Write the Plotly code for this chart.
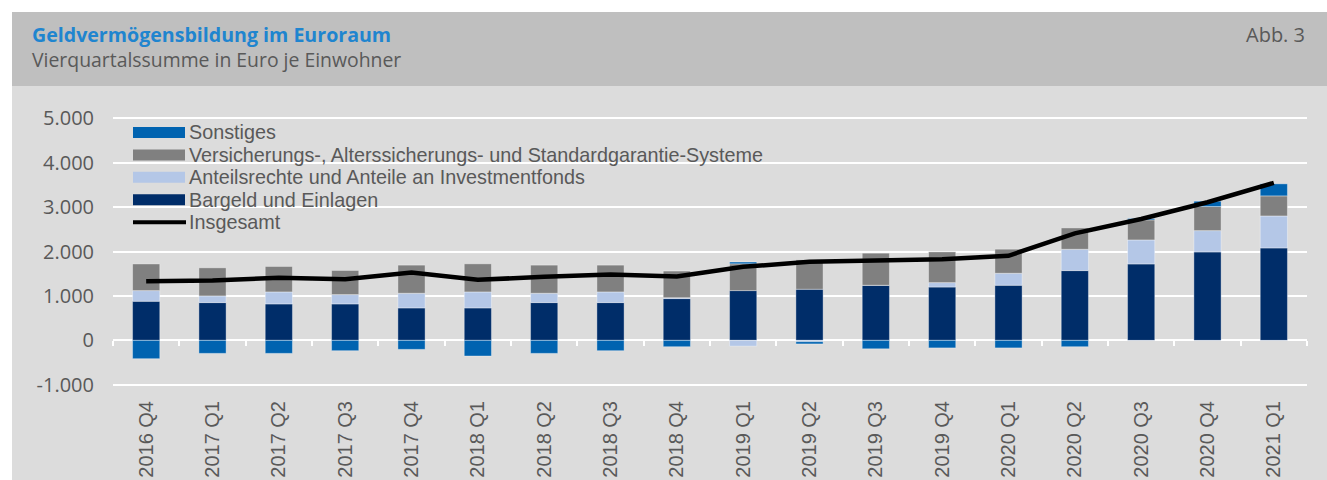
import plotly.graph_objects as go

categories = ["2016 Q4", "2017 Q1", "2017 Q2", "2017 Q3", "2017 Q4", "2018 Q1", "2018 Q2",
              "2018 Q3", "2018 Q4", "2019 Q1", "2019 Q2", "2019 Q3", "2019 Q4", "2020 Q1",
              "2020 Q2", "2020 Q3", "2020 Q4", "2021 Q1"]
bargeld = [880, 850, 820, 820, 730, 730, 850, 850, 940, 1120, 1150, 1240, 1200, 1240, 1570, 1720, 1990, 2080]
anteile = [240, 150, 270, 210, 330, 360, 210, 240, 20, -130, -30, 0, 100, 270, 480, 540, 480, 720]
versicherung = [600, 633, 573, 543, 633, 633, 633, 603, 600, 603, 663, 722, 692, 542, 481, 452, 542, 452]
sonstiges = [-413, -293, -293, -233, -203, -353, -293, -233, -143, 40, -50, -190, -170, -170, -143, 30, 120, 271]
insgesamt = [1332, 1347, 1407, 1377, 1528, 1362, 1430, 1482, 1437, 1655, 1768, 1806, 1828, 1904, 2408, 2731, 3108, 3544]

ytick_vals = [-1000, 0, 1000, 2000, 3000, 4000, 5000]
ytick_text = ["-1.000", "0", "1.000", "2.000", "3.000", "4.000", "5.000"]

series_names = ["Sonstiges",
                "Versicherungs-, Alterssicherungs- und Standardgarantie-Systeme",
                "Anteilsrechte und Anteile an Investmentfonds",
                "Bargeld und Einlagen"]
line_name = "Insgesamt"

title_text = "Geldvermögensbildung im Euroraum"
subtitle_text = "Vierquartalssumme in Euro je Einwohner"
fig_label = "Abb. 3"

C_BARGELD = "#002d69"
C_ANTEILE = "#b4c7e7"
C_VERS = "#808080"
C_SONST = "#0063b0"
TXT = "#595959"
FONT = "Open Sans"
XFONT = "Liberation Sans"
LEGFONT = "Liberation Sans"

# figure geometry (pixels)
WIDTH, HEIGHT = 1327, 480
L, R, T, B = 113, 1307, 116.1, 387.2
YMIN, YMAX = -1050, 5050


def px(x):
    return (x - L) / (R - L)


def py(y):
    return (B - y) / (B - T)


fig = go.Figure()
bar_line = dict(color="rgba(255,255,255,0.35)", width=1)
for vals, col, nm in [(bargeld, C_BARGELD, series_names[3]),
                      (anteile, C_ANTEILE, series_names[2]),
                      (versicherung, C_VERS, series_names[1]),
                      (sonstiges, C_SONST, series_names[0])]:
    fig.add_trace(go.Bar(x=categories, y=vals, name=nm, marker=dict(color=col, line=bar_line),
                         showlegend=False))

fig.add_trace(go.Scatter(x=categories, y=insgesamt, name=line_name, mode="lines",
                         line=dict(color="black", width=4.5), xaxis="x2", showlegend=False))

shapes = [
    dict(type="rect", xref="paper", yref="paper", x0=px(12), x1=px(WIDTH), y0=py(86), y1=py(12),
         fillcolor="#bfbfbf", line=dict(width=0), layer="below"),
    dict(type="rect", xref="paper", yref="paper", x0=px(12), x1=px(WIDTH), y0=py(HEIGHT + 5), y1=py(86),
         fillcolor="#dcdcdc", line=dict(width=0), layer="below"),
]
annotations = [
    dict(text="<b>" + title_text + "</b>", x=px(30), y=py(34.5), xref="paper", yref="paper",
         xanchor="left", yanchor="middle", showarrow=False, font=dict(family=FONT, size=19.6, color="#1f85cf")),
    dict(text=subtitle_text, x=px(30), y=py(59.5), xref="paper", yref="paper",
         xanchor="left", yanchor="middle", showarrow=False, font=dict(family=FONT, size=19.4, color=TXT)),
    dict(text=fig_label, x=px(1307), y=py(34.5), xref="paper", yref="paper",
         xanchor="right", yanchor="middle", showarrow=False, font=dict(family=FONT, size=20, color=TXT)),
]

# legend built from swatches + text
row_y = [132.5, 155, 177.3, 199.8, 222.5]
legend_cols = [C_SONST, C_VERS, C_ANTEILE, C_BARGELD]
for col, yc in zip(legend_cols, row_y[:4]):
    shapes.append(dict(type="rect", xref="paper", yref="paper", x0=px(133), x1=px(185),
                       y0=py(yc + 5.5), y1=py(yc - 5.5), fillcolor=col, line=dict(width=0)))
shapes.append(dict(type="line", xref="paper", yref="paper", x0=px(133), x1=px(186),
                   y0=py(row_y[4]), y1=py(row_y[4]), line=dict(color="black", width=4)))
for t, yc in zip(series_names + [line_name], row_y):
    annotations.append(dict(text=t, x=px(187.5), y=py(yc), xref="paper", yref="paper",
                            xanchor="left", yanchor="middle", showarrow=False, borderpad=0,
                            font=dict(family=LEGFONT, size=19.8, color=TXT)))

fig.update_layout(
    width=WIDTH, height=HEIGHT,
    margin=dict(l=L, r=WIDTH - R, t=T, b=HEIGHT - B, autoexpand=False),
    paper_bgcolor="white", plot_bgcolor="rgba(0,0,0,0)",
    barmode="relative", bargap=0.59,
    showlegend=False,
    font=dict(family=FONT, size=19, color=TXT),
    shapes=shapes, annotations=annotations,
    xaxis=dict(type="category", categoryorder="array", categoryarray=categories,
               range=[-0.5, len(categories) - 0.5], showgrid=False, zeroline=False,
               showline=False, ticks="", tickangle=-90, ticklabelstandoff=9,
               tickfont=dict(family=XFONT, size=20, color=TXT)),
    xaxis2=dict(type="category", categoryorder="array", categoryarray=categories,
                overlaying="x", anchor="free", position=py(340),
                range=[-0.5, len(categories) - 0.5], showgrid=False, zeroline=False,
                showline=False, showticklabels=False, ticks="outside", tickson="boundaries",
                ticklen=5, tickwidth=2, tickcolor="white"),
    yaxis=dict(range=[YMIN, YMAX], tickvals=ytick_vals, ticktext=ytick_text,
               showgrid=True, gridcolor="white", gridwidth=2,
               zeroline=True, zerolinecolor="white", zerolinewidth=2,
               showline=False, ticks="", ticklabelstandoff=18,
               tickfont=dict(family=FONT, size=20, color=TXT)),
)

fig.write_html("out.html")
